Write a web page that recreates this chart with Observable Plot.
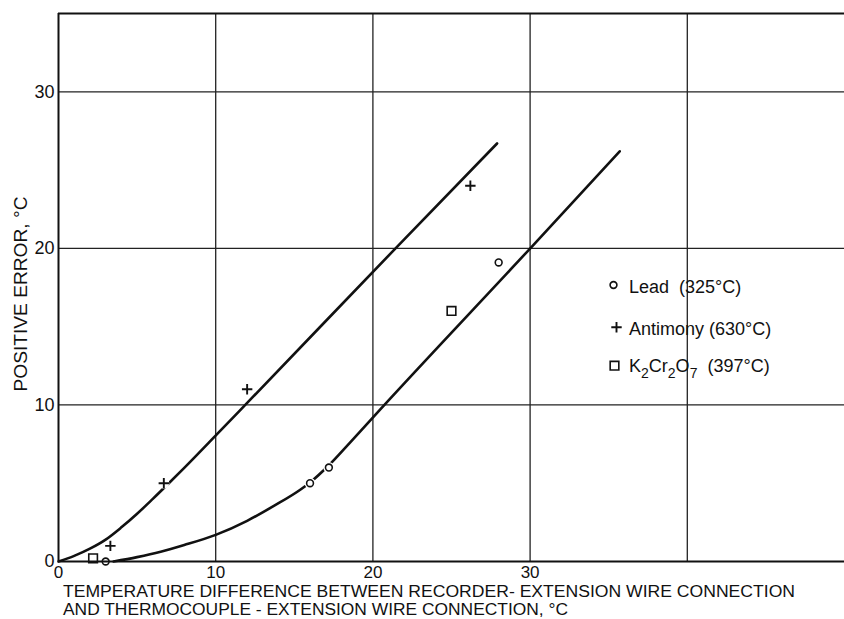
<!DOCTYPE html>
<html>
<head>
<meta charset="utf-8">
<script src="https://cdn.jsdelivr.net/npm/d3@7"></script>
<script src="https://cdn.jsdelivr.net/npm/@observablehq/plot@0.6"></script>
<style>
  html, body { margin: 0; padding: 0; background: #fff; }
  #chart { width: 844px; height: 619px; }
</style>
</head>
<body>
<div id="chart"></div>
<script>
// Calibration points: temperature difference (°C) vs positive error (°C)
const leadX = [3.0, 16.0, 17.2, 28.0];
const leadY = [0.0, 5.0, 6.0, 19.1];
const antimonyX = [3.3, 6.7, 12.0, 26.2];
const antimonyY = [1.0, 5.0, 11.0, 24.0];
const dichromateX = [2.2, 25.0];
const dichromateY = [0.2, 16.0];

// Faired curves drawn through the calibration points
const upperCurveX = [0, 1, 2, 3, 4, 5, 6, 7, 8, 10.1, 11.85, 21.44, 27.9];
const upperCurveY = [0, 0.36, 0.82, 1.4, 2.18, 3.05, 4.0, 4.98, 5.98, 8.15, 9.97, 20.0, 26.7];
const lowerCurveX = [3.5, 5, 6.5, 8, 10, 12, 13.7, 15.4, 16, 17.2, 18.5, 20.5, 30.1, 35.7];
const lowerCurveY = [0, 0.28, 0.62, 1.05, 1.7, 2.6, 3.55, 4.6, 5.05, 6.15, 7.55, 9.75, 20.1, 26.2];

// Axes and grid
const xTicks = [0, 10, 20, 30];
const yTicks = [0, 10, 20, 30];
const xGrid = [10, 20, 30, 40];
const yGrid = [10, 20, 30];
const xTitleLines = [
  "TEMPERATURE DIFFERENCE BETWEEN RECORDER- EXTENSION WIRE CONNECTION",
  "AND THERMOCOUPLE - EXTENSION WIRE CONNECTION, °C"
];
const yTitle = "POSITIVE ERROR, °C";

// Legend entries: formula part (digits become subscripts) and melting point
const legendNames = ["Lead", "Antimony", "K2Cr2O7"];
const legendTemps = ["(325°C)", "(630°C)", "(397°C)"];

const pts = (xs, ys) => xs.map((x, i) => ({x, y: ys[i]}));
const lead = pts(leadX, leadY);
const antimony = pts(antimonyX, antimonyY);
const dichromate = pts(dichromateX, dichromateY);
const upperCurve = pts(upperCurveX, upperCurveY);
const lowerCurve = pts(lowerCurveX, lowerCurveY);

const INK = "#111";
const FONT = "'Liberation Sans', Arial, sans-serif";
const marker = {x: "x", y: "y", fill: "none", stroke: INK, strokeWidth: 1.6};
const CIRCLE_R = 3.4, PLUS_R = 3.45, SQUARE_R = 5.5;

const chart = Plot.plot({
  width: 844,
  height: 619,
  marginLeft: 58,
  marginRight: 0,
  marginTop: 13,
  marginBottom: 58,
  x: {domain: [0, 50]},
  y: {domain: [0, 35]},
  style: {fontFamily: FONT, fontSize: "17px", color: INK, background: "#fff"},
  marks: [
    Plot.ruleX(xGrid, {stroke: "#222", strokeWidth: 1.3}),
    Plot.ruleY(yGrid, {stroke: "#222", strokeWidth: 1.3}),
    Plot.line(upperCurve, {x: "x", y: "y", curve: "monotone-x", stroke: INK, strokeWidth: 2.6}),
    Plot.line(lowerCurve, {x: "x", y: "y", curve: "monotone-x", stroke: INK, strokeWidth: 2.6}),
    // white clearing behind each symbol so the curves break around it
    Plot.dot([...lead, ...antimony, ...dichromate], {x: "x", y: "y", r: 5.5, fill: "white", stroke: "none"}),
    Plot.ruleY([0], {stroke: INK, strokeWidth: 2}),
    Plot.ruleY([35], {stroke: INK, strokeWidth: 2}),
    Plot.ruleX([0], {stroke: INK, strokeWidth: 2}),
    Plot.dot(lead, {...marker, symbol: "circle", r: CIRCLE_R}),
    Plot.dot(antimony, {...marker, symbol: "plus", r: PLUS_R, strokeWidth: 1.9}),
    Plot.dot(dichromate, {...marker, symbol: "square2", r: SQUARE_R}),
    Plot.axisX({ticks: xTicks, tickSize: 0, tickPadding: 4, label: null, fontSize: 17}),
    Plot.axisY({ticks: yTicks, tickSize: 0, tickPadding: 4, label: null, fontSize: 18})
  ]
});

document.getElementById("chart").appendChild(chart);

const svg = d3.select(chart);

// Axis titles
const xt = svg.append("g")
  .attr("font-family", FONT).attr("font-size", 16).attr("fill", INK)
  .attr("text-anchor", "start");
const xTitleBaselines = [596.5, 614.5];
const xTitleLengths = [732, 505];
xTitleLines.forEach((line, i) => {
  xt.append("text")
    .attr("x", 63).attr("y", xTitleBaselines[i])
    .attr("textLength", xTitleLengths[i]).attr("lengthAdjust", "spacingAndGlyphs")
    .text(line);
});
svg.append("text")
  .attr("font-family", FONT).attr("font-size", 18).attr("fill", INK)
  .attr("text-anchor", "middle")
  .attr("transform", "translate(26.5,294) rotate(-90)")
  .attr("textLength", 195).attr("lengthAdjust", "spacingAndGlyphs")
  .text(yTitle);

// Legend
const legendSymbols = [
  d3.symbol(d3.symbolCircle, Math.PI * CIRCLE_R * CIRCLE_R),
  d3.symbol(d3.symbolPlus, Math.PI * PLUS_R * PLUS_R),
  d3.symbol(d3.symbolSquare2, Math.PI * SQUARE_R * SQUARE_R)
];
const legendStroke = [1.6, 1.9, 1.6];
const legendMarkerX = [613.5, 616.5, 614.5];
const legendMarkerY = [285, 327.3, 365.7];
const legendBaseline = [293.3, 335, 371.7];
const legend = svg.append("g")
  .attr("font-family", FONT).attr("font-size", 18).attr("fill", INK)
  .attr("text-anchor", "start");
legendNames.forEach((name, i) => {
  legend.append("path")
    .attr("d", legendSymbols[i]())
    .attr("transform", `translate(${legendMarkerX[i]},${legendMarkerY[i]})`)
    .attr("fill", "none").attr("stroke", INK).attr("stroke-width", legendStroke[i]);
  const t = legend.append("text").attr("x", 629).attr("y", legendBaseline[i]);
  // split the name into letter runs and digit runs; digits are subscripts
  const parts = name.match(/[A-Za-z]+|\d+/g);
  let shifted = false;
  parts.forEach(p => {
    const isSub = /^\d+$/.test(p);
    const ts = t.append("tspan").text(p);
    if (isSub) { ts.attr("font-size", 14).attr("dy", shifted ? 0 : 6); shifted = true; }
    else if (shifted) { ts.attr("dy", -6); shifted = false; }
  });
  const tail = t.append("tspan").text((i === 1 ? " " : "\u00a0\u00a0") + legendTemps[i]);
  if (shifted) tail.attr("dy", -6);
});
</script>
</body>
</html>
